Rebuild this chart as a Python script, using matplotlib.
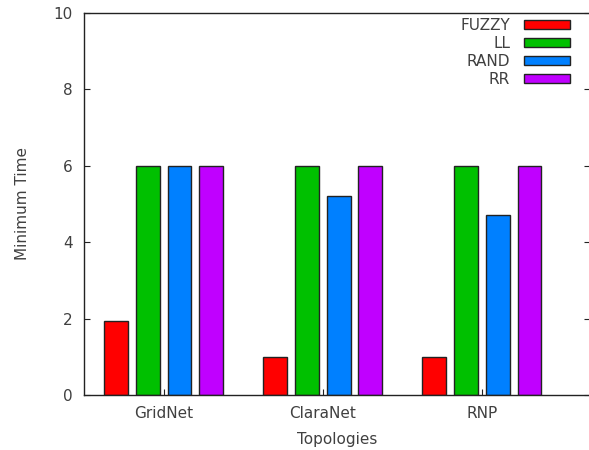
import numpy as np
import matplotlib
matplotlib.use("Agg")
from matplotlib import pyplot as plt

topologies = ["GridNet", "ClaraNet", "RNP"]
methods = ["FUZZY", "LL", "RAND", "RR"]
fuzzy = [1.95, 1.0, 1.0]
ll = [6.0, 6.0, 6.0]
rand = [6.0, 5.2, 4.7]
rr = [6.0, 6.0, 6.0]
colors = ["#ff0000", "#00c000", "#0080ff", "#c000ff"]

plt.rcParams["font.family"] = "DejaVu Sans"
plt.rcParams["font.size"] = 11
txt = "#404040"

fig = plt.figure(figsize=(5.89, 4.5), dpi=100)
ax = fig.add_axes([84/589, 1-395/450, 506/589, 382/450])

x = np.arange(len(topologies))
width = 0.15
offsets = [-0.3, -0.1, 0.1, 0.3]
for series, off, c, name in zip([fuzzy, ll, rand, rr], offsets, colors, methods):
    ax.bar(x + off, series, width=width, color=c, edgecolor="#222222",
           linewidth=1, label=name)

ax.set_xlim(-0.5, 2.68)
ax.set_ylim(0, 10)
ax.set_yticks(range(0, 11, 2))
ax.set_xticks(x)
ax.set_xticklabels(topologies)
ax.tick_params(direction="in", length=4, colors="#222222", labelcolor=txt,
               top=False, right=True, pad=8)
ax.tick_params(axis="x", pad=8)
ax.set_ylabel("Minimum Time", color=txt, labelpad=17)
ax.set_xlabel("Topologies", color=txt, labelpad=8)
for s in ax.spines.values():
    s.set_color("#222222")
    s.set_linewidth(1)

ax.legend(loc="upper right", frameon=False, markerfirst=False,
          handlelength=3.0, handleheight=0.5, labelspacing=0.2,
          handletextpad=0.9, borderaxespad=0.0, bbox_to_anchor=(0.972, 1.003),
          labelcolor=txt)

fig.savefig("out.png", dpi=100)
